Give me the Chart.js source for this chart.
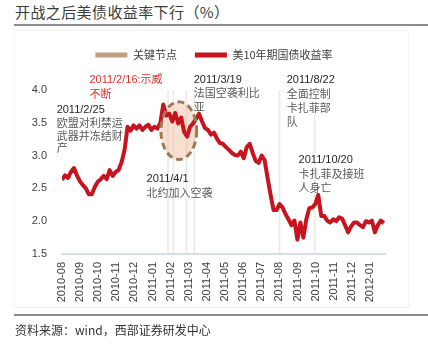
<!DOCTYPE html>
<html lang="zh-CN">
<head>
<meta charset="utf-8">
<title>开战之后美债收益率下行</title>
<script src="https://cdn.jsdelivr.net/npm/chart.js@4.4.1/dist/chart.umd.min.js"></script>
<style>
  html, body { margin: 0; padding: 0; background: #fff; }
  body { width: 428px; height: 346px; position: relative; overflow: hidden;
         font-family: "Noto Sans CJK SC", "Liberation Sans", sans-serif; color: #333; }
  .title { position: absolute; left: 15px; top: 2px; font-size: 15px; line-height: 20px; letter-spacing: 0.4px; color: #3a3a3a; }
  .rule { position: absolute; left: 14px; width: 414px; height: 2px; background: #8c8c8c; }
  .panel { position: absolute; left: 14px; top: 30px; width: 393px; height: 276px; border: 1px solid #f3f3f3; }
  .source { position: absolute; left: 15px; top: 322px; font-size: 12px; line-height: 16px; }
  #chart { position: absolute; left: 0; top: 0; }
</style>
</head>
<body>
<div class="title">开战之后美债收益率下行（%）</div>
<div class="rule" style="top:24px"></div>
<div class="panel"></div>
<canvas id="chart" width="428" height="346"></canvas>
<div class="rule" style="top:314px"></div>
<div class="source">资料来源：wind，西部证券研发中心</div>

<script>
// =========================
// 数据（从原图读出，约每 5 天一个点）
const seriesStart = '2010-08-22';
const stepDays = 5;
const yields = [
  2.63, 2.70, 2.66, 2.75, 2.81, 2.70, 2.61, 2.55, 2.50, 2.41,
  2.41, 2.52, 2.60, 2.64, 2.69, 2.64, 2.78, 2.69, 2.75, 2.78,
  2.90, 3.09, 3.44, 3.38, 3.46, 3.41, 3.46, 3.39, 3.44, 3.47,
  3.39, 3.44, 3.41, 3.50, 3.78, 3.61, 3.64, 3.52, 3.65, 3.49,
  3.58, 3.36, 3.29, 3.44, 3.49, 3.56, 3.64, 3.52, 3.42, 3.39,
  3.32, 3.35, 3.26, 3.19, 3.18, 3.13, 3.09, 3.04, 3.01, 3.00,
  3.06, 2.96, 3.13, 3.18, 3.04, 2.92, 2.89, 3.00, 2.93, 2.66,
  2.40, 2.17, 2.17, 2.26, 2.21, 2.11, 2.03, 1.94, 2.01, 1.72,
  1.98, 1.75, 2.03, 2.20, 2.21, 2.26, 2.40, 2.08, 2.08, 2.01,
  1.98, 2.03, 2.00, 2.06, 2.04, 1.94, 1.83, 1.92, 1.98, 1.98,
  1.94, 1.91, 2.00, 1.98, 2.01, 1.83, 1.94, 2.01, 1.97
];

// 关键节点（竖线）
const keyDates   = ['2011-02-16', '2011-02-25', '2011-03-19', '2011-04-01', '2011-08-22', '2011-10-20'];
const keyHeights = [4.0, 4.0, 4.0, 4.0, 4.0, 3.68];

// x 轴标签（原图按交易日等距标注）
const tickLabels = ['2010-08', '2010-09', '2010-10', '2010-11', '2010-12', '2011-01',
                    '2011-02', '2011-03', '2011-04', '2011-05', '2011-06', '2011-07',
                    '2011-08', '2011-09', '2011-10', '2011-11', '2011-12', '2012-01'];
const firstTick = '2010-08-22';
const tickStep = 30.4;
const axisStart = '2010-08-22';
const axisEnd = '2012-02-15';

// 文字标注
const notes = [
  { at: '2010-10-07', y: 4.15, gap: 14,   red: true, lines: ['2011/2/16:示威', '不断'] },
  { at: '2010-08-13', y: 3.69, gap: 12.5, lines: ['2011/2/25', '欧盟对利禁运', '武器并冻结财', '产'] },
  { at: '2011-03-31', y: 4.16, gap: 13.5, lines: ['2011/3/19', '法国空袭利比', '亚'] },
  { at: '2011-09-03', y: 4.16, gap: 14,   lines: ['2011/8/22', '全面控制', '卡扎菲部', '队'] },
  { at: '2011-09-23', y: 2.93, gap: 14,   lines: ['2011/10/20', '卡扎菲及接班', '人身亡'] },
  { at: '2011-01-11', y: 2.64, gap: 13.5, lines: ['2011/4/1', '北约加入空袭'] }
];
// 圈出 2 月中旬到 3 月底
const bubble = { at: '2011-03-06', y: 3.38, rx: 30, ry: 0.44 };

// =========================
// Helpers
const DAY0 = Date.UTC(2010, 7, 1);
const dayOf = s => {
  const [y, m, d] = s.split('-').map(Number);
  return (Date.UTC(y, m - 1, d) - DAY0) / 86400000;
};

const RED = '#c8141e';
const TAN = '#bfa07f';
const TEXT = '#404040';
const LATIN = '"Liberation Sans", "Noto Sans CJK SC", sans-serif';
const CJK = '"Noto Sans CJK SC", "Liberation Sans", sans-serif';
const swatch = [TAN, RED];

const lineData = yields.map((v, i) => ({ x: dayOf(seriesStart) + i * stepDays, y: v }));
const keyData = keyDates.map((d, i) => ({ x: dayOf(d), y: keyHeights[i] }));

// 椭圆 + 文字
const decorations = {
  id: 'decorations',
  beforeDatasetsDraw(chart) {
    const { ctx } = chart;
    const e = ellipseBox(chart);
    ctx.save();
    ctx.beginPath();
    ctx.ellipse(e.cx, e.cy, e.rx, e.ry, 0, 0, Math.PI * 2);
    ctx.fillStyle = 'rgba(245,214,194,0.75)';
    ctx.fill();
    ctx.restore();
  },
  afterDatasetsDraw(chart) {
    const { ctx, scales: { x, y } } = chart;
    const e = ellipseBox(chart);
    ctx.save();
    ctx.beginPath();
    ctx.ellipse(e.cx, e.cy, e.rx, e.ry, 0, 0, Math.PI * 2);
    ctx.setLineDash([7, 4]);
    ctx.lineWidth = 3;
    ctx.strokeStyle = '#a07a58';
    ctx.stroke();
    ctx.setLineDash([]);

    ctx.textAlign = 'left';
    ctx.textBaseline = 'middle';
    notes.forEach(n => {
      const px = x.getPixelForValue(dayOf(n.at));
      const py = y.getPixelForValue(n.y);
      n.lines.forEach((t, i) => {
        ctx.font = (i === 0 ? '11px ' + LATIN : '11px ' + CJK);
        ctx.fillStyle = n.red ? '#e0302a' : (i === 0 ? '#262626' : '#595959');
        ctx.fillText(t, px, py + i * n.gap);
      });
    });
    ctx.restore();
  }
};

function ellipseBox(chart) {
  const { x, y } = chart.scales;
  const d = dayOf(bubble.at);
  const cx = x.getPixelForValue(d), cy = y.getPixelForValue(bubble.y);
  return {
    cx, cy,
    rx: Math.abs(x.getPixelForValue(d + bubble.rx) - cx),
    ry: Math.abs(y.getPixelForValue(bubble.y + bubble.ry) - cy)
  };
}

// =========================
// Chart
new Chart(document.getElementById('chart'), {
  type: 'line',
  data: {
    datasets: [
      {
        type: 'bar',
        label: '关键节点',
        data: keyData,
        backgroundColor: 'rgba(210,190,175,0.35)',
        barThickness: 1,
        order: 2
      },
      {
        type: 'line',
        label: '美10年期国债收益率',
        data: lineData,
        borderColor: RED,
        backgroundColor: RED,
        borderWidth: 4,
        pointRadius: 0,
        tension: 0,
        borderJoinStyle: 'round',
        order: 1
      }
    ]
  },
  options: {
    responsive: false,
    animation: false,
    layout: { padding: { top: 31.5, left: 0, right: 0, bottom: 0 } },
    plugins: {
      tooltip: { enabled: false },
      legend: {
        position: 'top',
        weight: 3000,
        labels: {
          boxWidth: 32,
          boxHeight: 5,
          padding: 18,
          color: TEXT,
          font: { size: 11, family: CJK },
          generateLabels: chart => chart.data.datasets.map((ds, i) => ({
            text: ds.label,
            fillStyle: swatch[i],
            strokeStyle: swatch[i],
            lineWidth: 0,
            hidden: false,
            datasetIndex: i,
            fontColor: TEXT
          }))
        }
      },
      // 空标题，只用来在图例和绘图区之间留白
      title: { display: true, text: '', font: { size: 1 }, padding: { top: 18.3, bottom: 0 } }
    },
    scales: {
      x: {
        type: 'linear',
        offset: false,
        min: dayOf(axisStart),
        max: dayOf(axisEnd),
        grid: { display: false, drawTicks: false },
        border: { display: true, color: '#d5dee9', width: 2 },
        afterBuildTicks: s => {
          s.ticks = tickLabels.map((_, i) => ({ value: dayOf(firstTick) + i * tickStep }));
        },
        afterFit: s => { s.height = 92; s.paddingRight = 43; },
        ticks: {
          autoSkip: false,
          minRotation: 90,
          maxRotation: 90,
          padding: 8,
          color: TEXT,
          font: { size: 11, family: LATIN },
          callback: (v, i) => tickLabels[i]
        }
      },
      y: {
        min: 1.5,
        max: 4.0,
        grid: { display: false, drawTicks: false },
        border: { display: false },
        afterFit: s => { s.width = 62; },
        ticks: {
          stepSize: 0.5,
          padding: 15,
          color: TEXT,
          font: { size: 11, family: LATIN },
          callback: v => v.toFixed(1)
        }
      }
    }
  },
  plugins: [decorations]
});
</script>
</body>
</html>
